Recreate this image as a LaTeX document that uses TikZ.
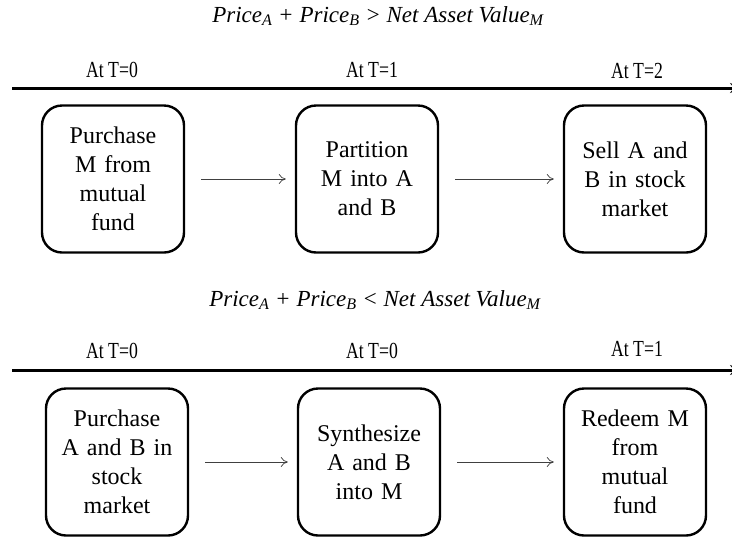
\documentclass[tikz,border=0pt]{standalone}
\usepackage{fontspec}
\setmainfont{Liberation Serif}
\usetikzlibrary{arrows.meta}
\newcommand{\tl}[1]{\scalebox{0.77}[1]{#1}}
\begin{document}
\begin{tikzpicture}[x=1pt,y=-1pt,
  stepbox/.style={draw,line width=2.4pt,rounded corners=20pt,minimum width=142pt,minimum height=147pt,
    text width=125pt,align=center,font=\fontsize{24}{29}\selectfont,inner sep=0pt},
  flow/.style={draw,line width=0.7pt,black!75,-{To[length=7pt,width=10pt]},shorten <=16pt,shorten >=9pt},
  timeline/.style={line width=3pt,-{Stealth[length=12pt,width=10pt]}},
  tlabel/.style={font=\fontsize{23}{25}\selectfont,inner sep=0pt},
  title/.style={font=\fontsize{23}{26}\selectfont\itshape,inner sep=0pt}]
\useasboundingbox (0,0) rectangle (732,542);
% top section
\node[title] (t1) at (378,16) {Price\textsubscript{A} + Price\textsubscript{B} > Net Asset Value\textsubscript{M}};
\coordinate (l1s) at (12,88);
\coordinate (l1e) at (742,88);
\draw[timeline] (l1s) -- (l1e);
\node[tlabel] (a1) at (112,70) {\tl{At T=0}};
\node[tlabel] (a2) at (372,70) {\tl{At T=1}};
\node[tlabel] (a3) at (637,71) {\tl{At T=2}};
\node[stepbox] (b1) at (113,179) {Purchase\\M from\\mutual\\fund};
\node[stepbox] (b2) at (367,179) {Partition\\M into A\\and B};
\node[stepbox] (b3) at (635,179) {Sell A and\\B in stock\\market};
\draw[flow] (b1) -- (b2);
\draw[flow] (b2) -- (b3);
% bottom section
\node[title] (t2) at (375,300) {Price\textsubscript{A} + Price\textsubscript{B} < Net Asset Value\textsubscript{M}};
\coordinate (l2s) at (12,370);
\coordinate (l2e) at (742,370);
\draw[timeline] (l2s) -- (l2e);
\node[tlabel] (c1) at (112,351) {\tl{At T=0}};
\node[tlabel] (c2) at (372,351) {\tl{At T=0}};
\node[tlabel] (c3) at (637,349) {\tl{At T=1}};
\node[stepbox] (d1) at (117,462) {Purchase\\A and B in\\stock\\market};
\node[stepbox] (d2) at (369,462) {Synthesize\\A and B\\into M};
\node[stepbox] (d3) at (635,462) {Redeem M\\from\\mutual\\fund};
\draw[flow] (d1) -- (d2);
\draw[flow] (d2) -- (d3);
\end{tikzpicture}
\end{document}
